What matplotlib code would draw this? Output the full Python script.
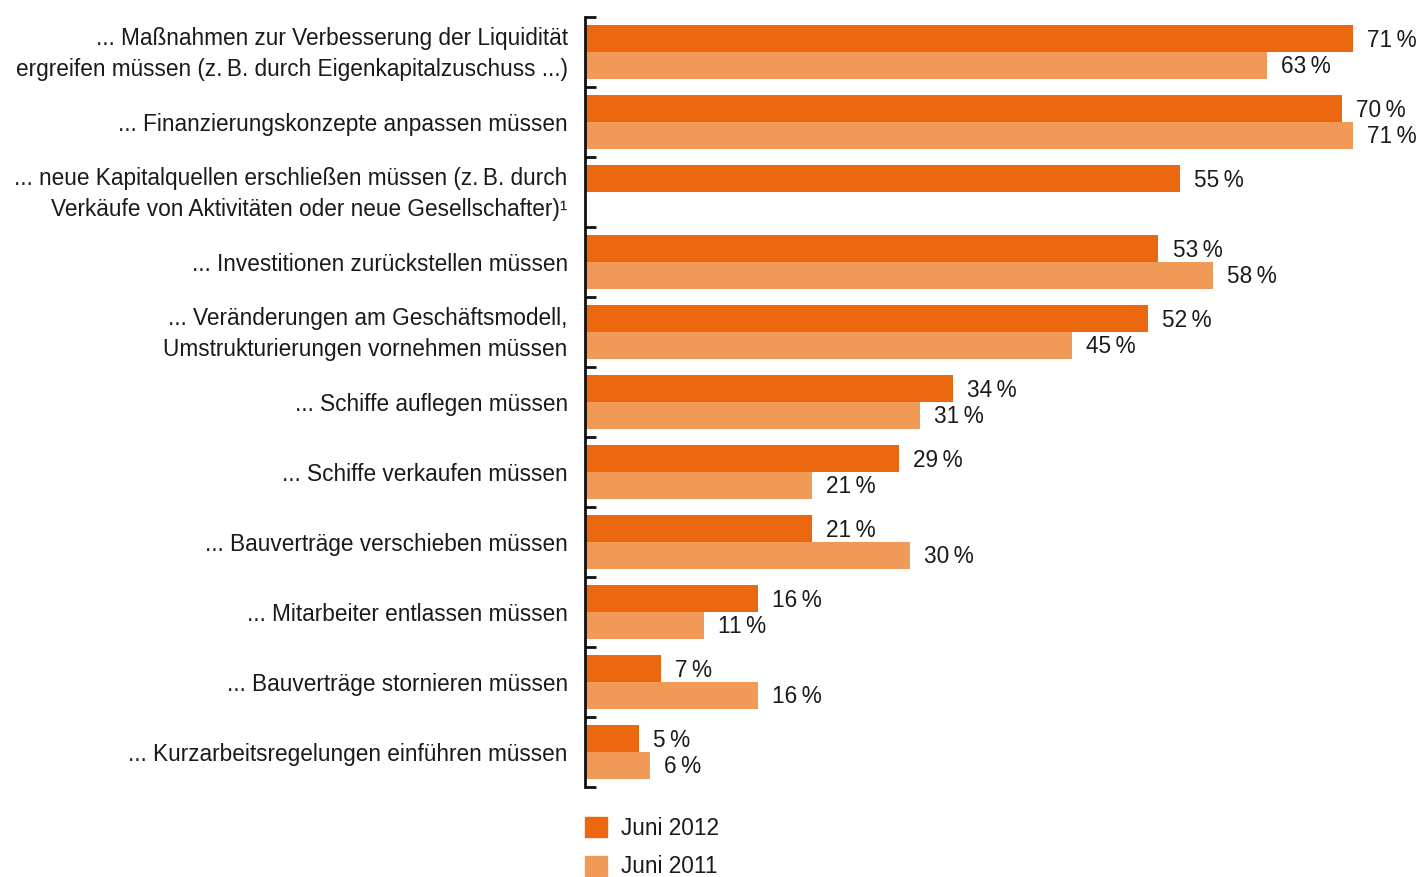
import numpy as np
import matplotlib
matplotlib.use("Agg")
import matplotlib.pyplot as plt
from matplotlib.patches import Patch

plt.rcParams['font.family'] = ['Liberation Sans', 'DejaVu Sans']

DARK = '#EB6810'
LIGHT = '#F19A57'
TEXT = '#1a1a1a'

categories = [
    "... Maßnahmen zur Verbesserung der Liquidität\nergreifen müssen (z.\u2009B. durch Eigenkapitalzuschuss ...)",
    "... Finanzierungskonzepte anpassen müssen",
    "... neue Kapitalquellen erschließen müssen (z.\u2009B. durch\nVerkäufe von Aktivitäten oder neue Gesellschafter)\u00b9",
    "... Investitionen zurückstellen müssen",
    "... Veränderungen am Geschäftsmodell,\nUmstrukturierungen vornehmen müssen",
    "... Schiffe auflegen müssen",
    "... Schiffe verkaufen müssen",
    "... Bauverträge verschieben müssen",
    "... Mitarbeiter entlassen müssen",
    "... Bauverträge stornieren müssen",
    "... Kurzarbeitsregelungen einführen müssen",
]
juni_2012 = [71, 70, 55, 53, 52, 34, 29, 21, 16, 7, 5]
juni_2011 = [63, 71, None, 58, 45, 31, 21, 30, 11, 16, 6]

W, H = 1419, 877
fig = plt.figure(figsize=(W / 100, H / 100), dpi=100)
left, right, top, bottom = 585, 1419, 17, 787
ax = fig.add_axes([left / W, (H - bottom) / H, (right - left) / W, (bottom - top) / H])

px_per_pct = 10.82
ax.set_xlim(0, (right - left) / px_per_pct)
n = len(categories)
ax.set_ylim(n, 0)

y = np.arange(n)
bh = 0.38
fs = 16.3

for i in range(n):
    v12 = juni_2012[i]
    v11 = juni_2011[i]
    ax.barh(y[i] + 0.5 - bh / 2, v12, height=bh, color=DARK)
    ax.text(v12 + 1.3, y[i] + 0.5 - bh / 2 + 0.02, f"{v12}\u2009%", va='center', ha='left',
            fontsize=fs, color=TEXT)
    if v11 is not None:
        ax.barh(y[i] + 0.5 + bh / 2, v11, height=bh, color=LIGHT)
        ax.text(v11 + 1.3, y[i] + 0.5 + bh / 2 + 0.02, f"{v11}\u2009%", va='center', ha='left',
                fontsize=fs, color=TEXT)
    ax.text(-1.6, y[i] + 0.53, categories[i], ha='right', va='center', fontsize=fs,
            color=TEXT, linespacing=1.47, multialignment='right')

for s in ['top', 'right', 'bottom']:
    ax.spines[s].set_visible(False)
ax.spines['left'].set_linewidth(2)
ax.spines['left'].set_color('#111111')
ax.set_xticks([])
ax.set_yticks(np.arange(n + 1))
ax.set_yticklabels([])
ax.tick_params(axis='y', direction='in', length=8, width=2, color='#111111')

handles = [Patch(color=DARK, label='Juni 2012'), Patch(color=LIGHT, label='Juni 2011')]
fig.legend(handles=handles, loc='upper left', bbox_to_anchor=(585 / W, (H - 817) / H),
           frameon=False, fontsize=fs, handlelength=0.97, handleheight=0.97,
           handletextpad=0.62, labelspacing=0.68, borderpad=0, borderaxespad=0,
           labelcolor=TEXT)

fig.savefig('out.png', dpi=100)
